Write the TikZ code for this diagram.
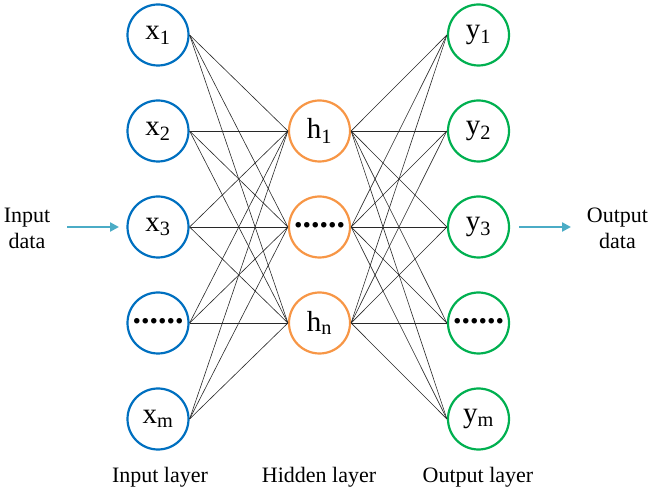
\documentclass[tikz,border=0pt]{standalone}
\usepackage{fontspec}
\setmainfont{Liberation Serif}
\usetikzlibrary{arrows.meta}
\definecolor{inblue}{RGB}{0,112,192}
\definecolor{hidorange}{RGB}{247,150,70}
\definecolor{outgreen}{RGB}{0,176,80}
\definecolor{arrowaqua}{RGB}{75,172,198}
\definecolor{linkgray}{RGB}{40,40,40}
\newcommand{\neurondots}{{\fontsize{34}{34}\selectfont\bfseries\raisebox{0.22ex}{......}}}
\begin{document}
\begin{tikzpicture}[x=1pt,y=1pt,
  neuron/.style={circle,line width=2.2pt,minimum size=61pt,inner sep=0pt,
    font=\fontsize{29}{30}\selectfont},
  inneuron/.style={neuron,draw=inblue},
  hidneuron/.style={neuron,draw=hidorange},
  outneuron/.style={neuron,draw=outgreen},
  link/.style={draw=linkgray,line width=0.6pt},
  flow/.style={draw=arrowaqua,line width=2.6pt,-{Triangle[length=9pt,width=9pt]}},
  caption/.style={font=\fontsize{22}{26}\selectfont,align=center}
]
\useasboundingbox (0,0) rectangle (653,490);
% input layer
\node[inneuron] (x1) at (158,455) {x\textsubscript{1}};
\node[inneuron] (x2) at (158,359) {x\textsubscript{2}};
\node[inneuron] (x3) at (158,263) {x\textsubscript{3}};
\node[inneuron] (x4) at (158,167) {\neurondots};
\node[inneuron] (x5) at (158,71) {x\textsubscript{m}};
% hidden layer
\node[hidneuron] (h1) at (319.5,359) {h\textsubscript{1}};
\node[hidneuron] (h2) at (319.5,263) {\neurondots};
\node[hidneuron] (h3) at (319.5,167) {h\textsubscript{n}};
% output layer
\node[outneuron] (y1) at (478.5,455) {y\textsubscript{1}};
\node[outneuron] (y2) at (478.5,359) {y\textsubscript{2}};
\node[outneuron] (y3) at (478.5,263) {y\textsubscript{3}};
\node[outneuron] (y4) at (478.5,167) {\neurondots};
\node[outneuron] (y5) at (478.5,71) {y\textsubscript{m}};
% links
\foreach \i in {1,...,5}{
  \foreach \j in {1,2,3}{
    \draw[link] (x\i.east) -- (h\j.west);
    \draw[link] (h\j.east) -- (y\i.west);
  }
}
% side labels and arrows
\node[caption] (indata) at (27,262) {Input\\data};
\node[caption] (outdata) at (617.5,262) {Output\\data};
\coordinate (inarrowstart) at (67,263);
\coordinate (inarrowend) at (119,263);
\coordinate (outarrowstart) at (519,263);
\coordinate (outarrowend) at (571,263);
\draw[flow] (inarrowstart) -- (inarrowend);
\draw[flow] (outarrowstart) -- (outarrowend);
% bottom captions
\node[caption,anchor=base] (inlab) at (160,8) {Input layer};
\node[caption,anchor=base] (hidlab) at (319,8) {Hidden layer};
\node[caption,anchor=base] (outlab) at (478,8) {Output layer};
\end{tikzpicture}
\end{document}
